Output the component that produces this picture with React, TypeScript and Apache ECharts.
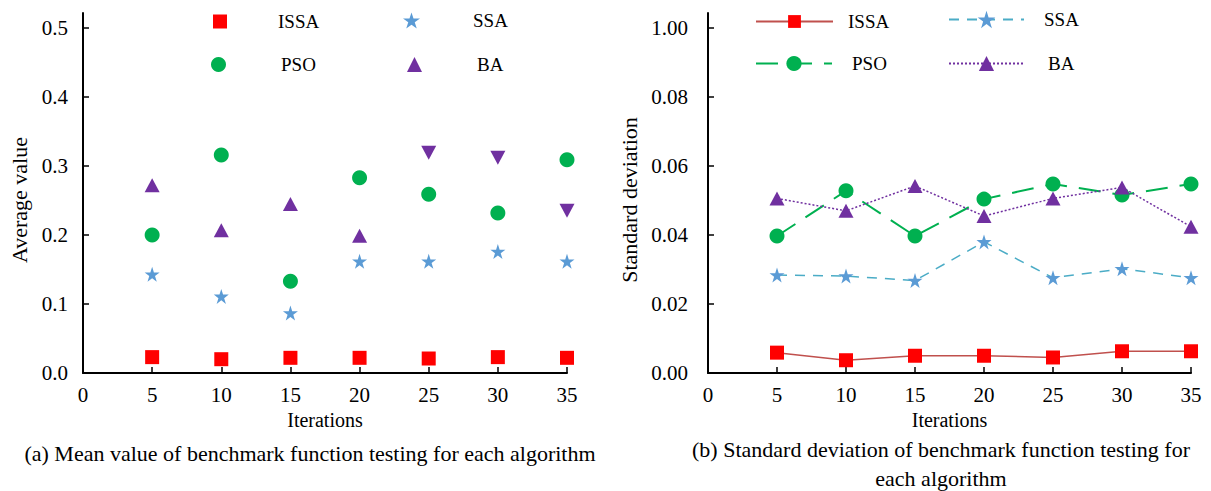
import React, { useEffect, useRef } from "react";
import * as echarts from "echarts";

const iterations = [5, 10, 15, 20, 25, 30, 35];
const xTickValues = [0, 5, 10, 15, 20, 25, 30, 35];

// (a) mean values
const issaMean = [0.023, 0.020, 0.022, 0.022, 0.021, 0.023, 0.022];
const ssaMean = [0.143, 0.111, 0.087, 0.162, 0.162, 0.176, 0.162];
const psoMean = [0.200, 0.316, 0.133, 0.283, 0.259, 0.232, 0.309];
const baMean = [0.272, 0.207, 0.245, 0.199, 0.319, 0.312, 0.235];
const baMeanMarker = ["up", "up", "up", "up", "down", "down", "down"];
const meanTicks = [0, 0.1, 0.2, 0.3, 0.4, 0.5];
const meanTickLabels = ["0.0", "0.1", "0.2", "0.3", "0.4", "0.5"];

// (b) standard deviations
const issaStd = [0.0059, 0.0037, 0.0050, 0.0050, 0.0045, 0.0063, 0.0063];
const ssaStd = [0.0284, 0.0281, 0.0268, 0.0380, 0.0276, 0.0302, 0.0276];
const psoStd = [0.0397, 0.0528, 0.0397, 0.0504, 0.0548, 0.0516, 0.0548];
const baStd = [0.0506, 0.0470, 0.0542, 0.0455, 0.0506, 0.0538, 0.0424];
const stdTicks = [0, 0.02, 0.04, 0.06, 0.08, 0.1];
const stdTickLabels = ["0.00", "0.02", "0.04", "0.06", "0.08", "1.00"];

const captionA = "(a) Mean value of benchmark function testing for each algorithm";
const captionB1 = "(b) Standard deviation of benchmark function testing for";
const captionB2 = "each algorithm";

const FONT = "'Liberation Serif', 'Times New Roman', serif";
const RED = "#FF0000";
const RED_LINE = "#C0504D";
const BLUE = "#5B9BD5";
const BLUE_LINE = "#4BACC6";
const GREEN = "#00B050";
const PURPLE = "#7030A0";
const STAR = "path://M50,0 L61.8,35.3 L100,35.3 L69.1,57.3 L80.9,92.7 L50,70.7 L19.1,92.7 L30.9,57.3 L0,35.3 L38.2,35.3 Z";

const pairs = (ys: number[]) => iterations.map((x, i) => [x, ys[i]]);

function xAxisOpt() {
  return {
    type: "value",
    min: 0,
    max: 35,
    interval: 5,
    name: "Iterations",
    nameLocation: "middle",
    nameGap: 33,
    nameTextStyle: { fontFamily: FONT, fontSize: 20, color: "#000" },
    axisLine: { show: true, lineStyle: { color: "#000", width: 2 } },
    axisTick: { show: true, inside: true, length: 6, lineStyle: { color: "#000", width: 1.5 } },
    axisLabel: { fontFamily: FONT, fontSize: 21, color: "#000", margin: 11, customValues: xTickValues },
    splitLine: { show: false },
  };
}

function yAxisOpt(name: string, max: number, ticks: number[], labels: string[], gap: number, margin: number) {
  return {
    type: "value",
    min: 0,
    max,
    name,
    nameLocation: "middle",
    nameGap: gap,
    nameTextStyle: { fontFamily: FONT, fontSize: 22, color: "#000", padding: [0, 14, 0, 0] },
    axisLine: { show: true, lineStyle: { color: "#000", width: 2 } },
    axisTick: { show: true, inside: true, length: 6, lineStyle: { color: "#000", width: 1.5 }, customValues: ticks },
    axisLabel: {
      fontFamily: FONT,
      fontSize: 21,
      color: "#000",
      margin,
      customValues: ticks,
      formatter: (v: number) => {
        const idx = ticks.findIndex((t) => Math.abs(t - v) < 1e-9);
        return idx >= 0 ? labels[idx] : "";
      },
    },
    splitLine: { show: false },
  };
}

function legendItem(name: string, left: number, top: number, w: number, h: number, pad = 0) {
  return {
    data: [name],
    left,
    top,
    padding: 0,
    itemWidth: w,
    itemHeight: h,
    selectedMode: false,
    textStyle: { fontFamily: FONT, fontSize: 19, color: "#000", padding: [0, 0, 0, pad] },
  };
}

function meanOption() {
  return {
    animation: false,
    textStyle: { fontFamily: FONT },
    grid: { left: 83, top: 13, width: 484, height: 360 },
    xAxis: xAxisOpt(),
    yAxis: yAxisOpt("Average value", 0.5217, meanTicks, meanTickLabels, 52, 15),
    legend: [
      legendItem("ISSA", 213, 12, 14, 14, 46),
      legendItem("SSA", 403, 11, 17, 17, 48),
      legendItem("PSO", 211, 55, 15, 15, 50),
      legendItem("BA", 407, 55, 15, 15, 50),
    ],
    series: [
      { name: "ISSA", type: "scatter", symbol: "rect", symbolSize: 14, itemStyle: { color: RED, opacity: 1 }, data: pairs(issaMean) },
      { name: "SSA", type: "scatter", symbol: STAR, symbolSize: 15, itemStyle: { color: BLUE, opacity: 1 }, data: pairs(ssaMean) },
      { name: "PSO", type: "scatter", symbol: "circle", symbolSize: 15, itemStyle: { color: GREEN, opacity: 1 }, data: pairs(psoMean) },
      {
        name: "BA",
        type: "scatter",
        symbol: "triangle",
        symbolSize: [15, 14],
        itemStyle: { color: PURPLE, opacity: 1 },
        data: iterations.map((x, i) => ({
          value: [x, baMean[i]],
          symbolRotate: baMeanMarker[i] === "down" ? 180 : 0,
        })),
      },
    ],
    graphic: [
      {
        type: "text",
        x: 310,
        y: 453,
        style: { text: captionA, fontFamily: FONT, fontSize: 22, fill: "#000", align: "center", verticalAlign: "middle" },
      },
    ],
  };
}

function stdOption() {
  return {
    animation: false,
    textStyle: { fontFamily: FONT },
    grid: { left: 103, top: 13, width: 483, height: 360 },
    xAxis: xAxisOpt(),
    yAxis: yAxisOpt("Standard deviation", 0.10435, stdTicks, stdTickLabels, 68, 20),
    legend: [
      legendItem("ISSA", 150, 12, 77, 16, 10),
      legendItem("SSA", 343, 10, 75, 22, 15),
      legendItem("PSO", 150, 54, 76, 19, 15),
      legendItem("BA", 343, 54, 75, 19, 19),
    ],
    series: [
      {
        name: "ISSA",
        type: "line",
        symbol: "rect",
        symbolSize: 14,
        itemStyle: { color: RED },
        lineStyle: { color: RED_LINE, width: 1.5 },
        data: pairs(issaStd),
      },
      {
        name: "SSA",
        type: "line",
        symbol: STAR,
        symbolSize: 15,
        itemStyle: { color: BLUE },
        lineStyle: { color: BLUE_LINE, width: 1.5, type: [10, 8] },
        data: pairs(ssaStd),
      },
      {
        name: "PSO",
        type: "line",
        symbol: "circle",
        symbolSize: 15,
        itemStyle: { color: GREEN },
        lineStyle: { color: GREEN, width: 2, type: [22, 12] },
        data: pairs(psoStd),
      },
      {
        name: "BA",
        type: "line",
        symbol: "triangle",
        symbolSize: [15, 14],
        itemStyle: { color: PURPLE },
        lineStyle: { color: PURPLE, width: 1.5, type: [2, 2] },
        data: pairs(baStd),
      },
    ],
    graphic: [
      {
        type: "text",
        x: 336,
        y: 449,
        style: { text: captionB1, fontFamily: FONT, fontSize: 22, fill: "#000", align: "center", verticalAlign: "middle" },
      },
      {
        type: "text",
        x: 336,
        y: 478,
        style: { text: captionB2, fontFamily: FONT, fontSize: 22, fill: "#000", align: "center", verticalAlign: "middle" },
      },
    ],
  };
}

export default function App() {
  const leftRef = useRef<HTMLDivElement>(null);
  const rightRef = useRef<HTMLDivElement>(null);

  useEffect(() => {
    document.body.style.margin = "0";
    const c1 = echarts.init(leftRef.current!, undefined, { renderer: "svg" });
    const c2 = echarts.init(rightRef.current!, undefined, { renderer: "svg" });
    c1.setOption(meanOption() as any);
    c2.setOption(stdOption() as any);
    return () => {
      c1.dispose();
      c2.dispose();
    };
  }, []);

  return (
    <div style={{ position: "relative", width: 1211, height: 491, background: "#fff" }}>
      <div ref={leftRef} style={{ position: "absolute", left: 0, top: 0, width: 605, height: 491 }} />
      <div ref={rightRef} style={{ position: "absolute", left: 605, top: 0, width: 606, height: 491 }} />
    </div>
  );
}
